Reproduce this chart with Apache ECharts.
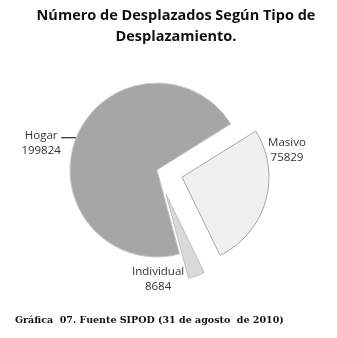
<!DOCTYPE html>
<html>
<head>
<meta charset="utf-8">
<script src="https://cdn.jsdelivr.net/npm/echarts@6/dist/echarts.min.js"></script>
<style>
html,body{margin:0;padding:0;background:#fff;}
#c{width:337px;height:338px;}
</style>
</head>
<body>
<div id="c"></div>
<script>
var categories = ['Masivo', 'Individual', 'Hogar'];
var values = [75829, 8684, 199824];
var sliceColors = ['#f0f0f0', '#d9d9d9', '#a6a6a6'];
var borderColors = ['#a8a8a8', '#c0c0c0', '#c8c8c8'];
var exploded = [true, true, false];
var titleText = 'Número de Desplazados Según Tipo de\nDesplazamiento.';
var captionText = 'Gráfica  07. Fuente SIPOD (31 de agosto  de 2010)';

// label centre targets, given relative to the un-exploded slice position
var labelPos = {
  Masivo: [262, 143],
  Individual: [149, 255]
};
var chart = echarts.init(document.getElementById('c'));
chart.setOption({
  backgroundColor: '#ffffff',
  animation: false,
  title: [{
    text: titleText,
    left: 171,
    textAlign: 'center',
    top: 0,
    textStyle: {
      fontFamily: 'Open Sans',
      fontWeight: 'bold',
      fontSize: 14.5,
      lineHeight: 21,
      color: '#111'
    }
  }, {
    text: captionText,
    left: 10,
    top: 311,
    textStyle: {
      fontFamily: 'DejaVu Serif',
      fontWeight: 'bold',
      fontSize: 9.5,
      color: '#111'
    }
  }],
  series: [{
    type: 'pie',
    center: [157, 170],
    radius: 87,
    startAngle: 32,
    clockwise: true,
    selectedMode: 'multiple',
    selectedOffset: 26,
    avoidLabelOverlap: false,
    label: {
      show: true,
      position: 'outside',
      fontFamily: 'Open Sans',
      fontSize: 11.5,
      lineHeight: 15,
      color: '#333',
      distanceToLabelLine: 0,
      formatter: function (p) {
        return '{a|' + p.name + '}\n{a|' + p.value + '}';
      },
      rich: {
        a: { width: 40, align: 'center', fontFamily: 'Open Sans', fontSize: 11.5, lineHeight: 15, color: '#333' }
      }
    },
    labelLine: {
      show: true,
      length: 1,
      length2: 14,
      lineStyle: { color: '#000', width: 1.2 }
    },
    labelLayout: function (params) {
      var name = categories[params.dataIndex];
      var pos = labelPos[name];
      if (pos) {
        var r = params.labelRect;
        return { dx: pos[0] - (r.x + r.width / 2), dy: pos[1] - (r.y + r.height / 2) };
      }
      return {};
    },
    emphasis: { disabled: true },
    data: categories.map(function (c, i) {
      var item = {
        name: c,
        value: values[i],
        selected: exploded[i],
        itemStyle: { color: sliceColors[i], borderColor: borderColors[i], borderWidth: 1 }
      };
      if (labelPos[c]) {
        item.labelLine = { show: false };
      } else {
        item.label = { padding: [10, 0, 0, 0] };
      }
      return item;
    })
  }]
});
</script>
</body>
</html>
